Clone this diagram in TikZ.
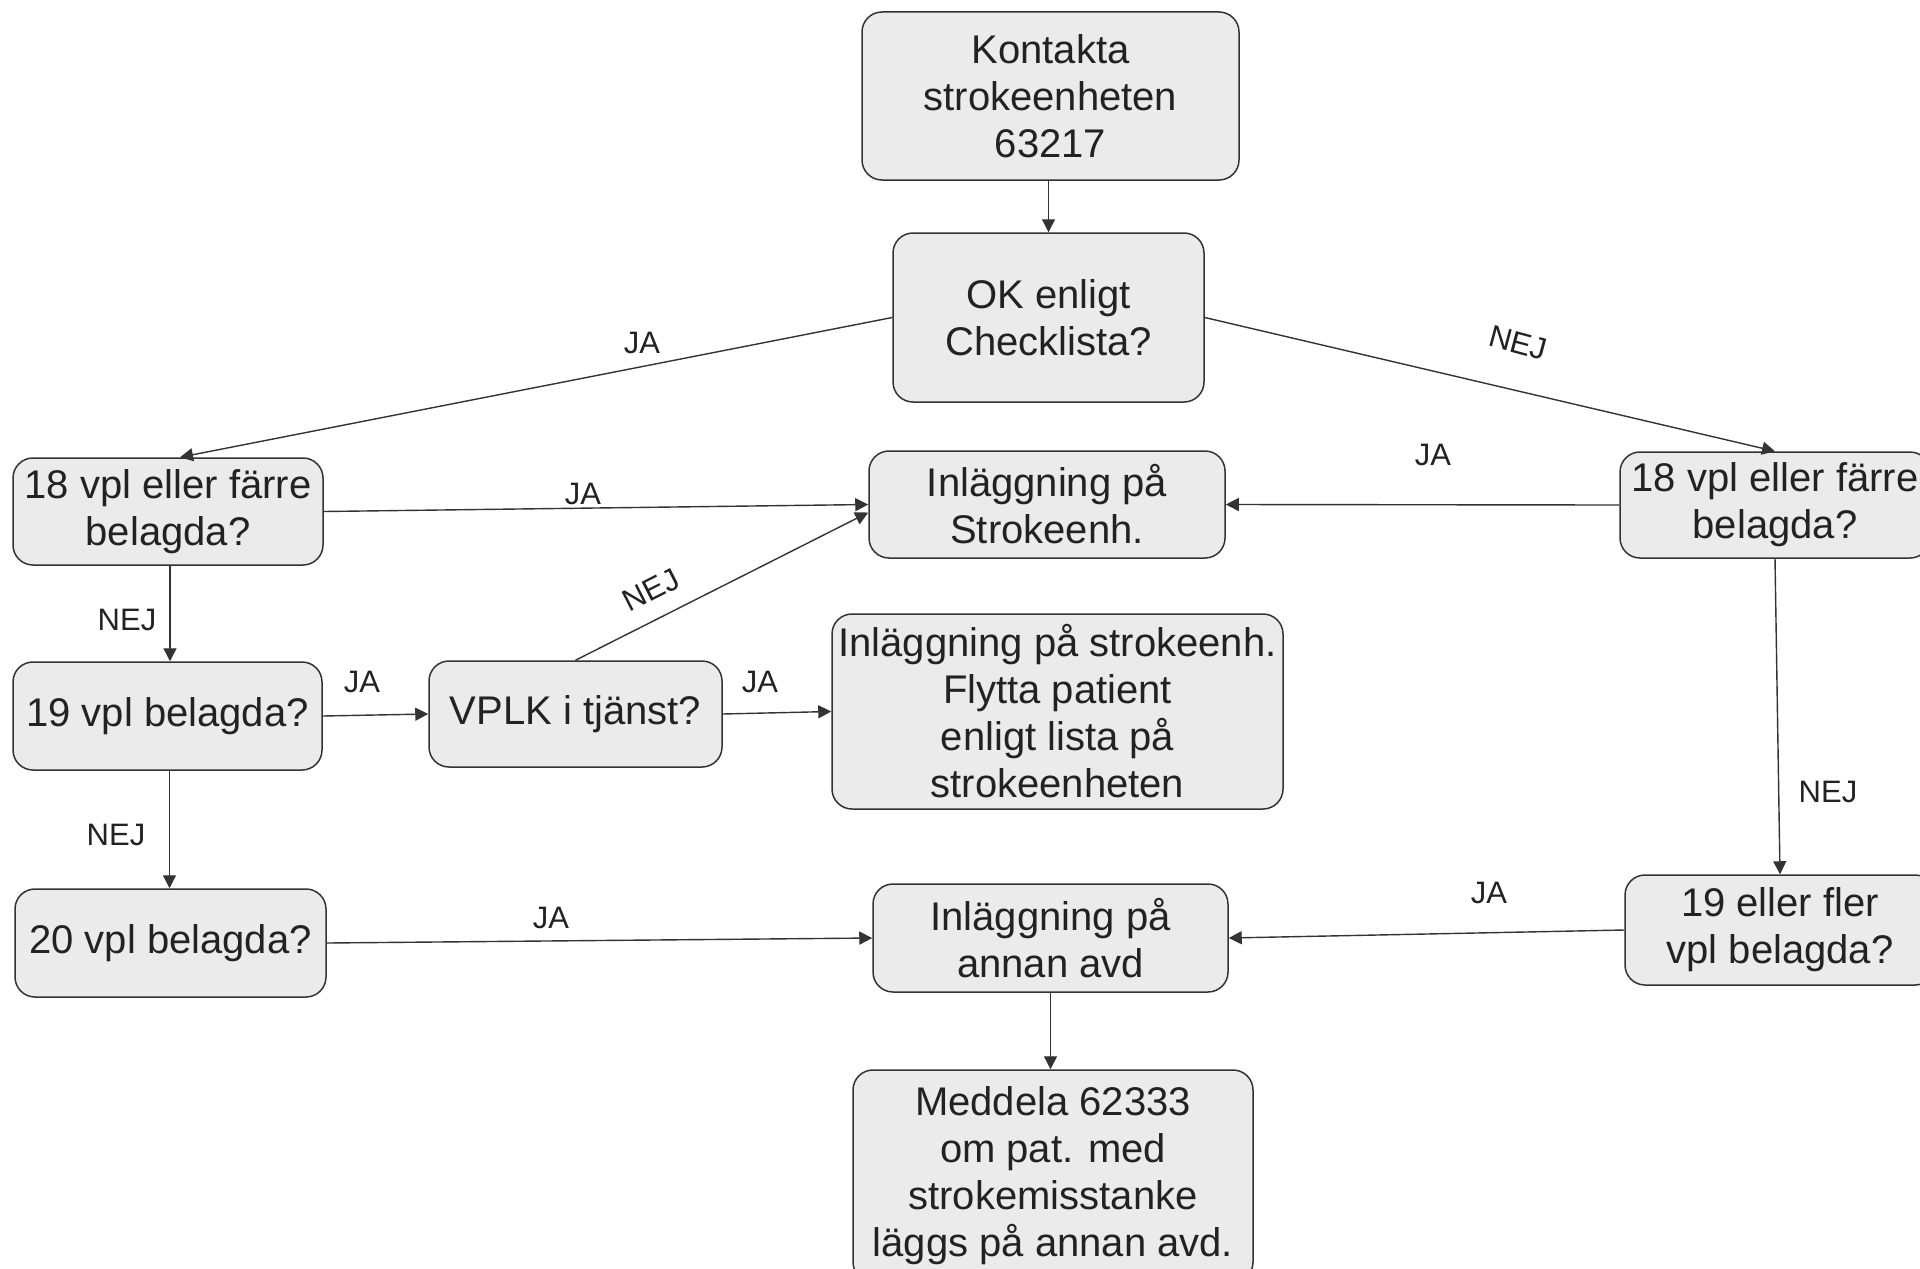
\documentclass[tikz,border=0pt]{standalone}
\usepackage{fontspec}
\setmainfont{Liberation Sans}
\usetikzlibrary{arrows.meta}
\definecolor{boxfill}{HTML}{EBEBEB}
\definecolor{ink}{HTML}{222222}
\definecolor{edge}{HTML}{333333}
\tikzset{
  box/.style={draw=edge, line width=0.75pt, fill=boxfill, rounded corners=10pt,
    align=center, text=ink, inner sep=0pt, font=\fontsize{20}{23.5}\selectfont},
  arr/.style={draw=edge, line width=0.7pt, -{Triangle[length=6.5pt,width=6.5pt]}},
  lab/.style={text=ink, inner sep=0pt, font=\fontsize{15.5}{18}\selectfont},
}
\begin{document}
\begin{tikzpicture}[x=0.5pt,y=-0.5pt]
\clip (0,0) rectangle (1920,1268);
\fill[white] (0,0) rectangle (1920,1268);
% nodes
\node[box, minimum width=188.5pt, minimum height=84pt] (k) at (1050.5,96) {Kontakta\\strokeenheten\\63217};
\node[box, minimum width=155.5pt, minimum height=84.5pt] (ok) at (1048.5,317.5) {OK enligt\\Checklista?};
\node[box, minimum width=155pt, minimum height=53.5pt] (l18) at (168,511.5) {18 vpl eller färre\\belagda?};
\node[box, minimum width=154.5pt, minimum height=54pt] (l19) at (167.5,716) {19 vpl belagda?};
\node[box, minimum width=155.5pt, minimum height=54pt] (l20) at (170.5,943) {20 vpl belagda?};
\node[box, minimum width=146.5pt, minimum height=53pt] (vplk) at (575.5,714) {VPLK i tjänst?};
\node[box, minimum width=178pt, minimum height=53.5pt] (ins) at (1047,504.5) {Inläggning på\\Strokeenh.};
\node[box, minimum width=225.5pt, minimum height=97.5pt] (fly) at (1057.5,711.5) {Inläggning på strokeenh.\\Flytta patient\\enligt lista på\\strokeenheten};
\node[box, minimum width=155pt, minimum height=53pt] (r18) at (1775,505) {18 vpl eller färre\\belagda?};
\node[box, minimum width=155pt, minimum height=55pt] (r19) at (1780,930) {19 eller fler\\vpl belagda?};
\node[box, minimum width=177.5pt, minimum height=54pt] (ann) at (1050.5,938) {Inläggning på\\annan avd};
\node[box, minimum width=200pt, minimum height=106pt] (med) at (1053,1176) {Meddela 62333\\om pat. med\\strokemisstanke\\läggs på annan avd.};
% connectors
\draw[arr] (k.south -| ok.north) -- (ok.north);
\draw[arr] (ok.west) -- ([xshift=6pt]l18.north);
\draw[arr] (ok.east) -- (r18.north);
\draw[arr] (l18.east) -- (ins.west);
\draw[arr] (r18.west) -- (ins.east);
\draw[arr] ([xshift=1pt]l18.south) -- ([xshift=1pt]l19.north -| l18.south);
\draw[arr] (l19.east) -- (vplk.west);
\draw[arr] (vplk.east) -- (fly.west);
\draw[arr] (vplk.north) -- ([yshift=-4pt]ins.west);
\draw[arr] ([xshift=1pt]l19.south) -- ([xshift=1pt]l20.north -| l19.south);
\draw[arr] (l20.east) -- (ann.west);
\draw[arr] (r18.south) -- (r19.north);
\draw[arr] (r19.west) -- (ann.east);
\draw[arr] (ann.south) -- (med.north -| ann.south);
% labels
\node[lab] (j1) at (642,343) {JA};
\node[lab, rotate=-15] (n1) at (1518,343) {NEJ};
\node[lab] (j2) at (1433,455) {JA};
\node[lab] (j3) at (583,494) {JA};
\node[lab] (n2) at (127,620) {NEJ};
\node[lab] (j4) at (362,682) {JA};
\node[lab] (j5) at (760,682) {JA};
\node[lab, rotate=27] (n3) at (651,590) {NEJ};
\node[lab] (n4) at (116,835) {NEJ};
\node[lab] (j6) at (551,918) {JA};
\node[lab] (n5) at (1828,792) {NEJ};
\node[lab] (j7) at (1489,893) {JA};
\end{tikzpicture}
\end{document}
